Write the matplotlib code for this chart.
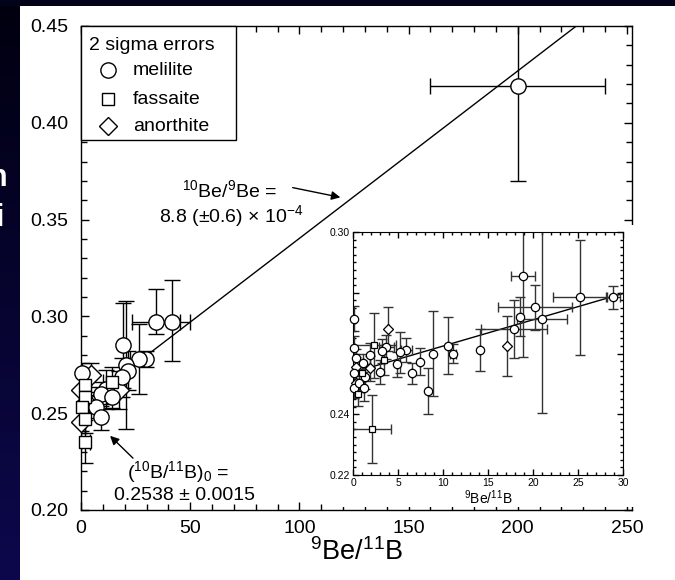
import matplotlib
matplotlib.use("Agg")
import matplotlib.pyplot as plt
import numpy as np
from matplotlib.patches import Rectangle
from matplotlib.ticker import MultipleLocator, FixedLocator, FixedFormatter

plt.rcParams['font.family'] = ['Liberation Sans', 'DejaVu Sans']
plt.rcParams['mathtext.default'] = 'regular'

# fit line: 10B/11B = b0 + slope * 9Be/11B
fit_b0 = 0.2538
fit_slope = 8.65e-4

# ---- main plot data ----
mel_x = [200.0, 34.5, 41.7, 29.8, 26.5, 19.1, 20.6, 21.4, 18.8, 0.5, 11.5, 9.2, 6.9, 9.2, 14.0]
mel_y = [0.419, 0.297, 0.297, 0.278, 0.278, 0.285, 0.275, 0.272, 0.2685, 0.271, 0.2623, 0.2599, 0.2534, 0.2479, 0.2585]
mel_xerr = [40, 11, 8, 0, 4, 0, 0, 0, 0, 0, 0, 0, 0, 0, 0]
mel_ylo = [0.049, 0.006, 0.020, 0.004, 0.018, 0.022, 0.033, 0.010, 0.010, 0.005, 0.010, 0.006, 0.006, 0.0066, 0.006]
mel_yhi = [0.05, 0.017, 0.022, 0.004, 0.018, 0.022, 0.033, 0.010, 0.010, 0.005, 0.010, 0.006, 0.006, 0.0066, 0.006]

fas_x = [2.0, 2.0, 0.5, 2.0, 2.0, 14.0]
fas_y = [0.2646, 0.2585, 0.2534, 0.2468, 0.2353, 0.266]
fas_xerr = [0, 0, 0, 0, 2, 4]
fas_yerr = [0.008, 0.008, 0.006, 0.007, 0.011, 0.008]

ano_x = [0.0, 0.0, 4.6, 17.6, 2.5]
ano_y = [0.262, 0.2456, 0.2697, 0.262, 0.256]
ano_xerr = [0, 0, 0, 0, 0]
ano_yerr = [0.005, 0.005, 0.006, 0.010, 0.005]

# ---- inset data ----
in_mel_x = [28.9, 25.2, 20.2, 18.9, 21.0, 18.6, 17.9, 14.1, 10.5, 11.1, 8.9, 8.3, 7.4, 6.6,
            5.9, 5.2, 4.85, 3.7, 3.26, 3.0, 1.9, 1.15, 1.3, 0.15, 0.1, 0.3, 0.1, 0.1, 0.7, 1.2]
in_mel_y = [0.2785, 0.2785, 0.2752, 0.2855, 0.2713, 0.2721, 0.268, 0.2612, 0.2626, 0.260, 0.260,
            0.2476, 0.2573, 0.2535, 0.2612, 0.2604, 0.2564, 0.2622, 0.2609, 0.254, 0.2595, 0.257,
            0.2524, 0.2715, 0.2618, 0.2585, 0.2535, 0.2485, 0.2504, 0.2485]
in_mel_xerr = [0.8, 3.0, 4.1, 1.35, 2.8, 0, 3.7, 0, 0, 0.3, 0, 0, 0, 0,
               0.6, 0, 0, 0.8, 0, 0, 0, 0, 0, 0, 0, 0, 0, 0, 0, 0]
in_mel_yerr = [0.0038, 0.019, 0.0075, 0.0265, 0.031, 0.0065, 0.0095, 0.007, 0.0095, 0.003, 0.014,
               0.0075, 0.0045, 0.0035, 0.004, 0.0068, 0.004, 0.004, 0.004, 0.004, 0.004, 0.003,
               0.004, 0.004, 0.004, 0.003, 0.003, 0.003, 0.003, 0.004]

in_fas_x = [2.3, 2.1, 3.4, 0.96, 0.5]
in_fas_y = [0.2627, 0.2351, 0.2579, 0.2535, 0.2467]
in_fas_xerr = [2.5, 2.1, 0, 0, 0]
in_fas_yerr = [0.0107, 0.0113, 0.005, 0.004, 0.004]

in_ano_x = [17.1, 3.85, 1.9, 0.3, 0.3]
in_ano_y = [0.2625, 0.268, 0.2551, 0.2557, 0.2502]
in_ano_xerr = [0, 0, 0, 0, 0]
in_ano_yerr = [0.010, 0.0072, 0.004, 0.003, 0.003]

fig = plt.figure(figsize=(6.75, 5.8), dpi=100, facecolor='white')
fig.add_artist(Rectangle((0, 0), 1, 1, transform=fig.transFigure, fc='white', ec='none', zorder=-10))

# dark slide background showing at the left and top edges
bg = fig.add_axes([0, 0, 20 / 675, 1], zorder=-5)
grad = np.linspace(0, 1, 256)[:, None]
top_c = np.array([0.0, 0.0, 0.06])
bot_c = np.array([0.05, 0.03, 0.30])
bg.imshow(top_c + grad[..., None] * (bot_c - top_c), aspect='auto', extent=[0, 1, 0, 1])
bg.set_axis_off()
fig.add_artist(Rectangle((0, 1 - 6 / 580), 1, 6 / 580, transform=fig.transFigure,
                         fc='#020218', ec='none', zorder=-4))
# bits of slide text peeking out at the left edge
fig.text(-0.016, 1 - 178 / 580, 'n', color='white', fontsize=22, fontweight='bold', va='center')
fig.text(-0.006, 1 - 218 / 580, 'i', color='white', fontsize=22, fontweight='bold', va='center')

ax = fig.add_axes([0.12, 0.1207, 0.8163, 0.8345])
ax.set_xlim(0, 252.3)
ax.set_ylim(0.20, 0.45)

xs = np.array([0, 252.3])
ax.plot(xs, fit_b0 + fit_slope * xs, color='k', lw=1, zorder=1)

ekw = dict(fmt='none', ecolor='k', elinewidth=1, capsize=6, capthick=1, zorder=2)
ax.errorbar(mel_x, mel_y, xerr=mel_xerr, yerr=[mel_ylo, mel_yhi], **ekw)
ax.errorbar(fas_x, fas_y, xerr=fas_xerr, yerr=fas_yerr, **ekw)
ax.errorbar(ano_x, ano_y, xerr=ano_xerr, yerr=ano_yerr, **ekw)
mkw = dict(ls='none', mfc='white', mec='k', mew=1, zorder=3, clip_on=False)
ax.plot(ano_x, ano_y, marker='D', ms=10, **mkw)
ax.plot(mel_x, mel_y, marker='o', ms=11, **mkw)
ax.plot(fas_x, fas_y, marker='s', ms=9, **mkw)

ax.xaxis.set_major_locator(MultipleLocator(50))
ax.xaxis.set_minor_locator(MultipleLocator(10))
ax.yaxis.set_major_locator(MultipleLocator(0.05))
ax.yaxis.set_minor_locator(MultipleLocator(0.01))
ax.yaxis.set_major_formatter(plt.FormatStrFormatter('%.2f'))
ax.tick_params(which='both', direction='in', top=True, right=True, width=1)
ax.tick_params(which='major', length=6, labelsize=14)
ax.tick_params(which='minor', length=4)
ax.tick_params(axis='y', pad=9)
ax.tick_params(axis='x', pad=7)
for s in ax.spines.values():
    s.set_linewidth(1)
ax.set_xlabel('$^{9}$Be/$^{11}$B', fontsize=19.5, labelpad=1)

# legend box
ax.add_patch(Rectangle((0, 0.7645), 0.2813, 0.2355, transform=ax.transAxes,
                       fc='white', ec='k', lw=1, zorder=4, clip_on=False))
ax.text(0.0145, 0.9607, '2 sigma errors', transform=ax.transAxes, fontsize=14,
        va='center', ha='left', zorder=5)
leg_rows = [('o', 'melilite', 0.909, 11), ('s', 'fassaite', 0.849, 9), ('D', 'anorthite', 0.793, 9)]
for m, lab, yy, ms in leg_rows:
    ax.plot([0.049], [yy], marker=m, ms=ms, mfc='white', mec='k', mew=1,
            transform=ax.transAxes, zorder=5, clip_on=False)
    ax.text(0.0944, yy, lab, transform=ax.transAxes, fontsize=14, va='center', ha='left', zorder=5)

# annotations
ax.text(68.2, 0.3653, '$^{10}$Be/$^{9}$Be =', fontsize=14, ha='center', va='center')
ax.text(68.6, 0.3519, '8.8 (\u00b10.6) \u00d7 10$^{-4}$', fontsize=14, ha='center', va='center')
ax.annotate('', xy=(120, 0.3612), xytext=(95.7, 0.3668),
            arrowprops=dict(arrowstyle='-|>', color='k', lw=1, mutation_scale=13))
ax.text(44.4, 0.2196, '($^{10}$B/$^{11}$B)$_{0}$ =', fontsize=14, ha='center', va='center')
ax.text(47.2, 0.2077, '0.2538 \u00b1 0.0015', fontsize=14, ha='center', va='center')
ax.annotate('', xy=(12.4, 0.2393), xytext=(24.7, 0.2258),
            arrowprops=dict(arrowstyle='-|>', color='k', lw=1, mutation_scale=13))

# white backing that hides the main frame under the inset
fig.add_artist(Rectangle((325 / 675, 73 / 580), 320 / 675, 282 / 580,
                         transform=fig.transFigure, fc='white', ec='none', zorder=1))

# ---- inset ----
ins = fig.add_axes([0.523, 0.181, 0.4, 0.419], zorder=2)
ins.set_xlim(0, 30)
ins.set_ylim(0.22, 0.30)
xi = np.array([0, 30])
ins.plot(xi, fit_b0 + fit_slope * xi, color='k', lw=1, zorder=1)
ikw = dict(fmt='none', ecolor='#333333', elinewidth=1, capsize=3.5, capthick=1, zorder=2)
ins.errorbar(in_mel_x, in_mel_y, xerr=in_mel_xerr, yerr=in_mel_yerr, **ikw)
ins.errorbar(in_fas_x, in_fas_y, xerr=in_fas_xerr, yerr=in_fas_yerr, **ikw)
ins.errorbar(in_ano_x, in_ano_y, xerr=in_ano_xerr, yerr=in_ano_yerr, **ikw)
imkw = dict(ls='none', mfc='white', mec='k', mew=0.9, zorder=3, clip_on=False)
ins.plot(in_ano_x, in_ano_y, marker='D', ms=5.5, **imkw)
ins.plot(in_mel_x, in_mel_y, marker='o', ms=6, **imkw)
ins.plot(in_fas_x, in_fas_y, marker='s', ms=5, **imkw)

ins.xaxis.set_major_locator(MultipleLocator(5))
ins.xaxis.set_minor_locator(MultipleLocator(1))
ins.yaxis.set_major_locator(FixedLocator([0.22, 0.24, 0.26, 0.28, 0.30]))
ins.yaxis.set_major_formatter(FixedFormatter(['0.22', '0.24', '', '', '0.30']))
ins.yaxis.set_minor_locator(MultipleLocator(0.0025))
ins.tick_params(which='both', direction='in', top=True, right=True, width=1)
ins.tick_params(which='major', length=4, labelsize=7.5, pad=2.5)
ins.tick_params(which='minor', length=2.5)
ins.set_xlabel('$^{9}$Be/$^{11}$B', fontsize=10, labelpad=0)

fig.savefig('out.png', dpi=100, facecolor='white')
